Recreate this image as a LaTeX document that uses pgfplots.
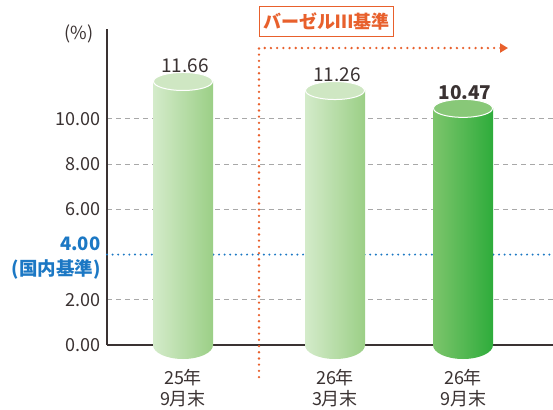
\documentclass[border=0pt]{standalone}
\usepackage{fontspec}
\setmainfont{Noto Sans CJK JP}
\usepackage{pgfplots}
\pgfplotsset{compat=1.18}
\usetikzlibrary{arrows.meta}
\definecolor{txt}{HTML}{3A3232}
\definecolor{axl}{HTML}{3A3232}
\definecolor{gridc}{HTML}{A8A8A8}
\definecolor{blu}{HTML}{1C78C4}
\definecolor{org}{HTML}{E8602C}
\definecolor{lgL}{HTML}{D4EBCA}
\definecolor{lgR}{HTML}{9BCF86}
\definecolor{lgT}{HTML}{CFE7C3}
\definecolor{dgL}{HTML}{7DC56C}
\definecolor{dgR}{HTML}{2EAC3B}
\definecolor{dgT}{HTML}{88C878}
\pgfdeclareplotmark{botL}{\shade[draw=none,left color=lgL,right color=lgR] (0pt,0pt) ellipse [x radius=30pt, y radius=14pt];}
\pgfdeclareplotmark{botD}{\shade[draw=none,left color=dgL,right color=dgR] (0pt,0pt) ellipse [x radius=30pt, y radius=14pt];}
\pgfdeclareplotmark{topL}{\filldraw[fill=lgT,draw=white,line width=1pt] (0pt,0pt) ellipse [x radius=29.5pt, y radius=9pt];}
\pgfdeclareplotmark{topD}{\filldraw[fill=dgT,draw=white,line width=1pt] (0pt,0pt) ellipse [x radius=29.5pt, y radius=9pt];}
\begin{document}
\begin{tikzpicture}
\path[use as bounding box] (-107pt,-64pt) rectangle (446pt,345pt);
\begin{axis}[
  x=1pt, y=22.6pt,
  xmin=0, xmax=446, ymin=0, ymax=14,
  clip=false,
  axis x line*=bottom, axis y line*=left,
  axis line style={axl, line width=1.3pt},
  major tick length=0pt,
  ytick={0,2,6,8,10},
  ymajorgrids,
  major grid style={gridc, line width=1pt, dash pattern=on 5pt off 4pt},
  extra y ticks={4},
  extra y tick labels={\textbf{4.00}\\\textbf{(国内基準)}},
  extra y tick style={
    major grid style={blu, line width=2.2pt, dash pattern=on 0pt off 5.6pt, line cap=round},
    yticklabel style={text=blu, align=right, font=\fontsize{18.5}{25}\selectfont, yshift=-3pt},
  },
  yticklabel style={text=txt, font=\fontsize{18}{20}\selectfont, xshift=-3pt},
  /pgf/number format/.cd, fixed, fixed zerofill, precision=2, assume math mode=true,
  /pgfplots/.cd,
  xtick={76,228,356},
  xticklabels={25年\\9月末, 26年\\3月末, 26年\\9月末},
  xticklabel style={text=txt, align=center, font=\fontsize{18}{21}\selectfont, yshift=-21pt},
]
% bottoms of cylinders
\addplot[only marks, mark=botL] coordinates {(76,0)};
\addplot[only marks, mark=botL] coordinates {(228,0)};
\addplot[only marks, mark=botD] coordinates {(356,0)};
% bodies
\addplot[ybar, bar width=60, bar shift=0pt, draw=none, left color=lgL, right color=lgR] coordinates {(76,11.66)};
\addplot[ybar, bar width=60, bar shift=0pt, draw=none, left color=lgL, right color=lgR] coordinates {(228,11.26)};
\addplot[ybar, bar width=60, bar shift=0pt, draw=none, left color=dgL, right color=dgR] coordinates {(356,10.47)};
% tops
\addplot[only marks, mark=topL] coordinates {(76,11.66) (228,11.26)};
\addplot[only marks, mark=topD] coordinates {(356,10.47)};
% value labels
\node[anchor=base, text=txt, font=\fontsize{19}{20}\selectfont] at (axis cs:78,12.05) {11.66};
\node[anchor=base, text=txt, font=\fontsize{19}{20}\selectfont] at (axis cs:230,11.65) {11.26};
\node[anchor=base, text=txt, font=\fontsize{19}{20}\selectfont\bfseries] at (axis cs:358,10.85) {10.47};
% Basel III marker
\addplot[org, line width=2.6pt, dash pattern=on 0pt off 6.2pt, line cap=round, -{Triangle[length=8pt,width=9pt]}] coordinates {(152,-1.42) (152,13.14) (401,13.14)};
\node[anchor=south west, draw=org, line width=1.2pt, fill=white, text=org, font=\fontsize{18}{20}\selectfont\bfseries, inner xsep=4pt, inner ysep=3pt, minimum height=30pt] at (axis cs:152,13.63) {バーゼルⅢ基準};
\node[anchor=east, text=txt, font=\fontsize{18}{20}\selectfont] at (axis cs:-10,13.75) {(\%)};
\end{axis}
\end{tikzpicture}
\end{document}
